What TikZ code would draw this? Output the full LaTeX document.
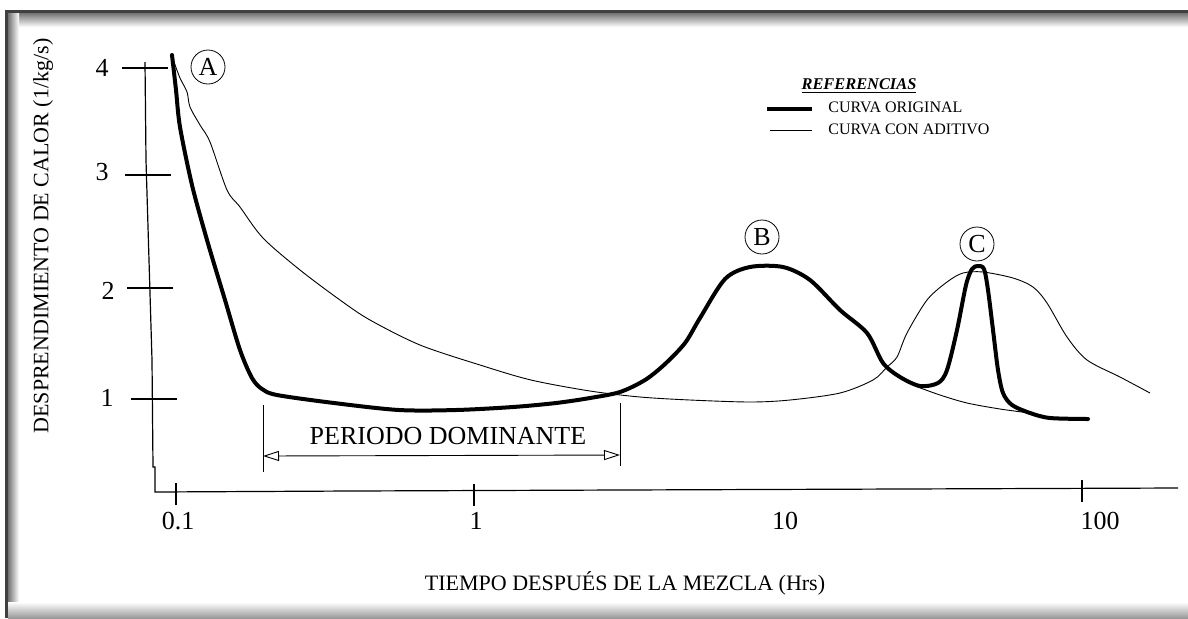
\documentclass[tikz,border=0pt]{standalone}
\usepackage{fontspec}
\setmainfont{Liberation Serif}
\usepackage{tikz}
\usetikzlibrary{arrows.meta,positioning,calc}

\begin{document}
\begin{tikzpicture}[x=0.5pt,y=-0.5pt,
    thickcurve/.style={line width=2pt,line join=round,line cap=round},
    thincurve/.style={line width=0.45pt,line join=round},
    axisline/.style={line width=0.6pt},
    peak/.style={circle,draw,line width=0.4pt,inner sep=0pt,minimum size=17pt,font=\fontsize{13}{13}\selectfont},
    ticklbl/.style={font=\fontsize{13}{13}\selectfont},
    legendtxt/.style={anchor=west,font=\fontsize{8}{8}\selectfont,inner sep=0pt}]
    \useasboundingbox (0,0) rectangle (1188,618);

    % frame with shadow
    \shade[top color=black!55, bottom color=white] (8,13) rectangle (1188,27);
    \shade[left color=black!55, right color=white] (8,13) rectangle (19,618);
    \shade[top color=white, bottom color=black!40] (8,602) rectangle (1188,618);
    \fill[black!75] (5,10) rectangle (1188,13);
    \fill[black!75] (5,10) rectangle (8,618);

    % axes
    \draw[axisline] (145,62) -- (146,160) -- (149,260) -- (152,360) -- (153,467)
        -- (155,467) -- (155,492) -- (350,491) -- (620,490) -- (900,489) -- (1178,488);

    % y ticks
    \foreach \yy/\xa/\xb in {68/122/168, 175/125/171, 288/127/173, 399/131/177}
        \draw[axisline] (\xa,\yy) -- (\xb,\yy);
    \node[ticklbl] (y4) at (102,68) {4};
    \node[ticklbl] (y3) at (102,172) {3};
    \node[ticklbl] (y2) at (108,291) {2};
    \node[ticklbl] (y1) at (107,398) {1};

    % x ticks
    \foreach \xx/\ya/\yb in {176/483/505, 474/484/506, 1082/480/502}
        \draw[axisline] (\xx,\ya) -- (\xx,\yb);
    \node[ticklbl] (x01) at (178,521) {0.1};
    \node[ticklbl] (x1) at (476,521) {1};
    \node[ticklbl] (x10) at (785,521) {10};
    \node[ticklbl] (x100) at (1100,521) {100};

    % axis titles
    \node[rotate=90,font=\fontsize{11}{11}\selectfont] (ytitle) at (43,236) {DESPRENDIMIENTO DE CALOR (1/kg/s)};
    \node[font=\fontsize{11}{11}\selectfont] (xtitle) at (625,583) {TIEMPO DESPUÉS DE LA MEZCLA (Hrs)};

    % curva con aditivo
    \draw[thincurve] plot[smooth,tension=0.5] coordinates {(174,62) (180,78) (187,92) (190,107) (200,125)
        (210,142) (227,190) (240,207) (263,238) (300,270) (340,300) (370,320) (420,345) (480,365)
        (531,380) (590,391) (640,397) (690,400) (750,402) (790,400) (840,393)
        (873,380) (887,367) (897,357) (907,333) (927,300) (947,282) (963,273) (983,272) (1013,278)
        (1033,287) (1047,303) (1067,337) (1087,360) (1120,377) (1150,393)};
    \draw[thincurve] plot[smooth,tension=0.5] coordinates {(915,386) (940,395) (967,403) (1000,409) (1030,413)};

    % curva original
    \draw[thickcurve] plot[smooth,tension=0.5] coordinates {(172,55) (176,90) (180,127) (192,185) (207,240)
        (225,300) (240,350) (252,378) (262,389) (277,395) (334,403) (399,410) (456,410) (513,407)
        (556,403) (590,398) (620,392) (645,380) (665,364) (685,343) (700,318) (725,279) (750,267)
        (783,267) (810,280) (840,310) (867,333) (883,363) (900,377) (920,386) (938,383) (947,370)
        (957,330) (966,285) (972,269) (978,266) (984,269) (988,290) (993,330) (998,370) (1003,393)
        (1012,405) (1030,413) (1050,418) (1088,419)};

    % peaks
    \node[peak] (pkA) at (208,67) {A};
    \node[peak] (pkB) at (762,237) {B};
    \node[peak] (pkC) at (977,244) {C};

    % periodo dominante
    \draw[thincurve] (263,405) -- (263,472);
    \draw[thincurve] (620,403) -- (620,466);
    \coordinate (pdL) at (263,456);
    \coordinate (pdR) at (620,455);
    \draw[thincurve,{Triangle[open,length=8pt,width=5pt]}-{Triangle[open,length=8pt,width=5pt]}] (pdL) -- (pdR);
    \node[font=\fontsize{13}{13}\selectfont] (pdtxt) at (448,436) {PERIODO DOMINANTE};

    % referencias
    \node[font=\fontsize{8.2}{8.2}\selectfont\bfseries\itshape] (refs) at (859,86) {\underline{REFERENCIAS}};
    \node[legendtxt] (legorig) at (828,107) {CURVA ORIGINAL};
    \node[legendtxt] (legadit) at (828,129) {CURVA CON ADITIVO};
    \draw[line width=1.6pt] (767,109) -- (812,109);
    \draw[thincurve] (770,130) -- (812,130);
\end{tikzpicture}
\end{document}
